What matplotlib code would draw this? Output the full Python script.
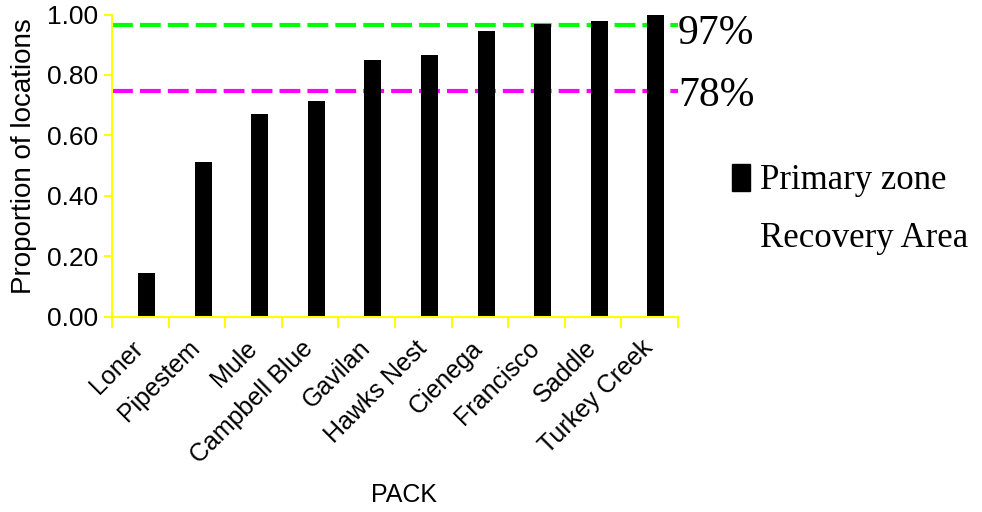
import matplotlib
matplotlib.use("Agg")
import matplotlib.pyplot as plt
import matplotlib.transforms as mtransforms
import numpy as np

packs = ["Loner", "Pipestem", "Mule", "Campbell Blue", "Gavilan", "Hawks Nest",
         "Cienega", "Francisco", "Saddle", "Turkey Creek"]
primary_zone = [0.143, 0.512, 0.670, 0.713, 0.848, 0.865, 0.944, 0.970, 0.977, 1.000]
ref_levels = [0.964, 0.747]
ref_labels = ["97%", "78%"]
ref_colors = ["#00FF00", "#FF00FF"]
yticks = [0.0, 0.2, 0.4, 0.6, 0.8, 1.0]
ytick_labels = ["0.00", "0.20", "0.40", "0.60", "0.80", "1.00"]

W, H = 982, 512
fig = plt.figure(figsize=(W / 100, H / 100), dpi=100)
ax = fig.add_axes([112 / W, 1 - 316.5 / H, (678 - 112) / W, (316.5 - 14.5) / H])

sans = "Liberation Sans"
serif = "Liberation Serif"

x = np.arange(len(packs))
for lvl, col in zip(ref_levels, ref_colors):
    ax.axhline(lvl, color=col, lw=3.0, linestyle=(0, (5, 1.7)), zorder=1)

ax.bar(x + 0.11, primary_zone, width=0.3, color="black", zorder=2, clip_on=False,
       label="Primary zone")

ax.set_xlim(-0.5, len(packs) - 0.5)
ax.set_ylim(0, 1.0)

ax.set_yticks(yticks)
ax.set_yticklabels(ytick_labels, fontfamily=sans, fontsize=19)
ax.set_xticks(x)
ax.set_xticks(np.arange(len(packs) + 1) - 0.5, minor=True)
ax.tick_params(axis="x", which="major", length=0, pad=14)
ax.tick_params(axis="x", which="minor", length=8, width=1.5, color="#FFFF00")
ax.tick_params(axis="y", length=6, width=1.5, color="#FFFF00", pad=4)
ax.set_xticklabels(packs, rotation=45, ha="right", rotation_mode="anchor",
                   fontfamily=sans, fontsize=18)
shift = mtransforms.ScaledTranslation(-9 / 100, 0, fig.dpi_scale_trans)
for lab in ax.get_xticklabels():
    lab.set_transform(lab.get_transform() + shift)

for s in ["top", "right"]:
    ax.spines[s].set_visible(False)
for s in ["left", "bottom"]:
    ax.spines[s].set_color("#FFFF00")
    ax.spines[s].set_linewidth(1.5)

ax.set_ylabel("Proportion of locations", fontfamily=sans, fontsize=20,
              va="center")
ax.yaxis.set_label_coords((24 - 112) / 566, (316.5 - 156) / 302)
fig.text(404 / W, 1 - 495 / H, "PACK", ha="center", va="center",
         fontfamily=sans, fontsize=18)

# reference labels (baseline placed slightly below each line)
offsets = [-0.063, -0.05]
for lvl, lab, off in zip(ref_levels, ref_labels, offsets):
    ax.text(1.0, lvl + off, lab, transform=ax.get_yaxis_transform(),
            ha="left", va="baseline", fontfamily=serif, fontsize=30, clip_on=False)

# legend
leg = ax.legend(handles=[plt.Rectangle((0, 0), 1, 1, color="black"),
                         plt.Rectangle((0, 0), 1, 1, color="none")],
                labels=["Primary zone", "Recovery Area"],
                loc="upper left", bbox_to_anchor=(732 / W, 1 - 164 / H),
                bbox_transform=fig.transFigure, frameon=False,
                prop={"family": serif, "size": 25}, handlelength=0.52,
                handleheight=0.8, handletextpad=0.3, labelspacing=0.7,
                borderpad=0, borderaxespad=0)

fig.savefig("out.png", dpi=100)
